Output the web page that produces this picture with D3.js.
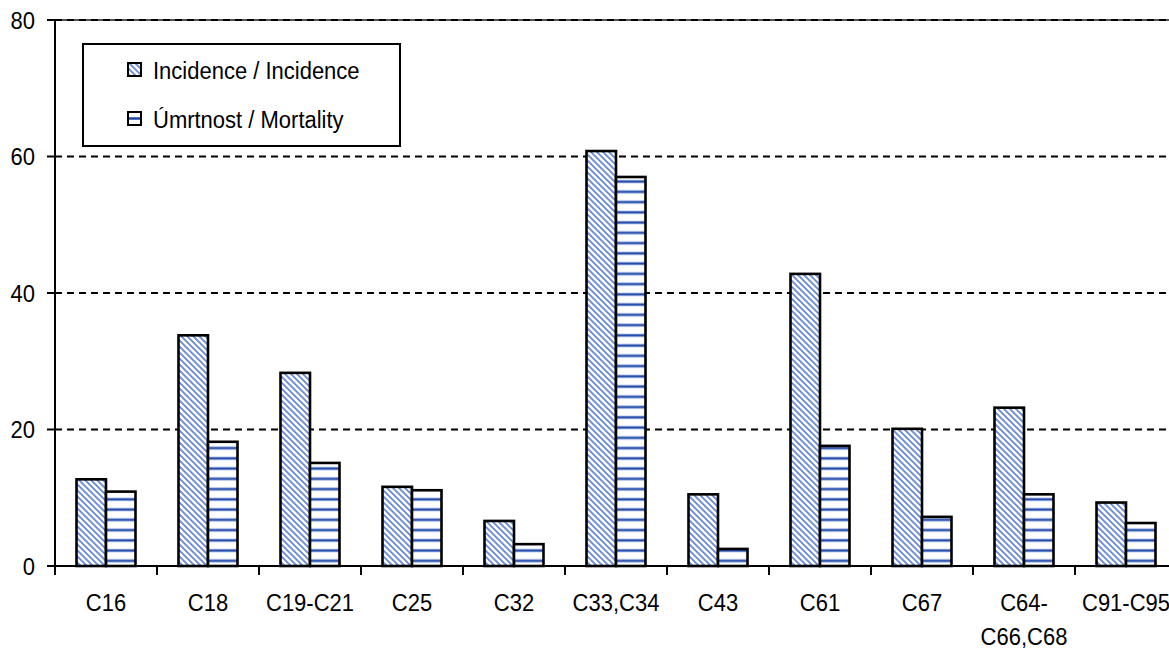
<!DOCTYPE html>
<html><head><meta charset="utf-8">
<script src="https://cdn.jsdelivr.net/npm/d3@7/dist/d3.min.js"></script>
<style>body{margin:0;background:#fff;overflow:hidden}svg{display:block}</style>
</head><body>
<svg id="c" width="1169" height="649"></svg>
<script>
const categories = ["C16","C18","C19-C21","C25","C32","C33,C34","C43","C61","C67","C64-C66,C68","C91-C95"];
const tickLabels = [["C16"],["C18"],["C19-C21"],["C25"],["C32"],["C33,C34"],["C43"],["C61"],["C67"],["C64-","C66,C68"],["C91-C95"]];
const seriesNames = ["Incidence / Incidence","Úmrtnost / Mortality"];
const incidence = [12.7,33.8,28.3,11.6,6.6,60.8,10.5,42.8,20.1,23.2,9.3];
const mortality = [10.9,18.2,15.1,11.1,3.2,57.0,2.5,17.6,7.2,10.5,6.3];
const yTicks = [0,20,40,60,80];

const svg = d3.select("#c");
const FONT = "'Liberation Sans', Arial, sans-serif";
const FS = 22, SY = 1.12;

const left = 55, bandW = 102;
const x0 = d3.scaleBand().domain(categories).range([left, left + bandW*categories.length]).padding(0);
const x1 = d3.scaleBand().domain(seriesNames).range([21.5, 80.5]).padding(0);
const y = d3.scaleLinear().domain([0,80]).range([566,20]);

// patterns
const defs = svg.append("defs");
const pInc = defs.append("pattern").attr("id","pInc").attr("patternUnits","userSpaceOnUse")
  .attr("width",6).attr("height",6);
pInc.append("rect").attr("width",6).attr("height",6).attr("fill","#fff");
pInc.append("path").attr("d","M-1,-1 L7,7 M-4,2 L2,8 M2,-4 L8,2").attr("stroke","#5a7fd0").attr("stroke-width",1.9).attr("stroke-opacity",0.9);
const pMor = defs.append("pattern").attr("id","pMor").attr("patternUnits","userSpaceOnUse")
  .attr("width",10).attr("height",10.25).attr("y",566);
pMor.append("rect").attr("width",10).attr("height",10.25).attr("fill","#fff");
pMor.append("rect").attr("y",3.2).attr("width",10).attr("height",3.8).attr("fill","#c2cfee");
pMor.append("rect").attr("y",4.1).attr("width",10).attr("height",2).attr("fill","#1c46a8");

// gridlines
svg.append("line").attr("x1",left).attr("x2",1169).attr("y1",y(80)).attr("y2",y(80))
  .attr("stroke","#555").attr("stroke-width",2);
svg.append("g").selectAll("line").data(yTicks.filter(d=>d>0)).join("line")
  .attr("x1",left).attr("x2",1169).attr("y1",d=>y(d)).attr("y2",d=>y(d))
  .attr("stroke","#000").attr("stroke-width",2).attr("stroke-dasharray","7,5");

// bars
const data = categories.map((c,i)=>({c, vals:[incidence[i], mortality[i]]}));
const groups = svg.append("g").selectAll("g").data(data).join("g")
  .attr("transform",d=>`translate(${x0(d.c)},0)`);
groups.selectAll("rect").data(d=>d.vals.map((v,j)=>({v, s:seriesNames[j], j}))).join("rect")
  .attr("x",d=>x1(d.s)).attr("width",x1.bandwidth())
  .attr("y",d=>y(d.v)).attr("height",d=>y(0)-y(d.v))
  .attr("fill",d=>d.j===0?"url(#pInc)":"url(#pMor)")
  .attr("stroke","#000").attr("stroke-width",2.6);

// axes
const ax = svg.append("g");
ax.append("line").attr("x1",left).attr("x2",1169).attr("y1",y(0)).attr("y2",y(0)).attr("stroke","#000").attr("stroke-width",2);
ax.append("line").attr("x1",left).attr("x2",left).attr("y1",y(80)).attr("y2",y(0)+9).attr("stroke","#000").attr("stroke-width",2);
// y ticks
ax.selectAll(".yt").data(yTicks).join("line").attr("class","yt")
  .attr("x1",left-8).attr("x2",left).attr("y1",d=>y(d)).attr("y2",d=>y(d)).attr("stroke","#000").attr("stroke-width",2);
ax.selectAll(".yl").data(yTicks).join("text").attr("class","yl")
  .attr("transform",d=>`translate(35,${y(d)}) scale(1,${SY})`)
  .attr("dy","0.36em").attr("text-anchor","end")
  .attr("font-family",FONT).attr("font-size",FS).attr("fill","#000").text(d=>d);
// x ticks at band boundaries
const bounds = categories.map(c=>x0(c)).concat([x0(categories[categories.length-1])+x0.bandwidth()]);
ax.selectAll(".xt").data(bounds).join("line").attr("class","xt")
  .attr("x1",d=>d).attr("x2",d=>d).attr("y1",y(0)).attr("y2",y(0)+9).attr("stroke","#000").attr("stroke-width",2);
const xl = ax.selectAll(".xl").data(categories).join("g").attr("class","xl")
  .attr("transform",c=>`translate(${x0(c)+x0.bandwidth()/2},0)`);
xl.each(function(c,i){
  const g = d3.select(this);
  tickLabels[i].forEach((line,k)=>{
    g.append("text").attr("transform",`translate(0,${611+k*34}) scale(1,${SY})`)
      .attr("text-anchor","middle").attr("font-family",FONT).attr("font-size",FS).attr("fill","#000").text(line);
  });
});

// legend
const lg = svg.append("g");
lg.append("rect").attr("x",83).attr("y",44).attr("width",317).attr("height",102)
  .attr("fill","#fff").attr("stroke","#000").attr("stroke-width",2);
const legRows = [{s:seriesNames[0], fill:"url(#pInc)", sy:63, ty:79},{s:seriesNames[1], fill:"#fff", sy:112, ty:128}];
legRows.forEach((r,i)=>{
  lg.append("rect").attr("x",128).attr("y",r.sy).attr("width",13).attr("height",13)
    .attr("fill",r.fill).attr("stroke","#000").attr("stroke-width",2);
  if(i===1) lg.append("line").attr("x1",129).attr("x2",140).attr("y1",r.sy+6.5).attr("y2",r.sy+6.5).attr("stroke","#1c46a8").attr("stroke-width",2.5);
  lg.append("text").attr("transform",`translate(153,${r.ty}) scale(1,${SY})`)
    .attr("font-family",FONT).attr("font-size",FS).attr("fill","#000").text(r.s);
});
</script>
</body></html>
